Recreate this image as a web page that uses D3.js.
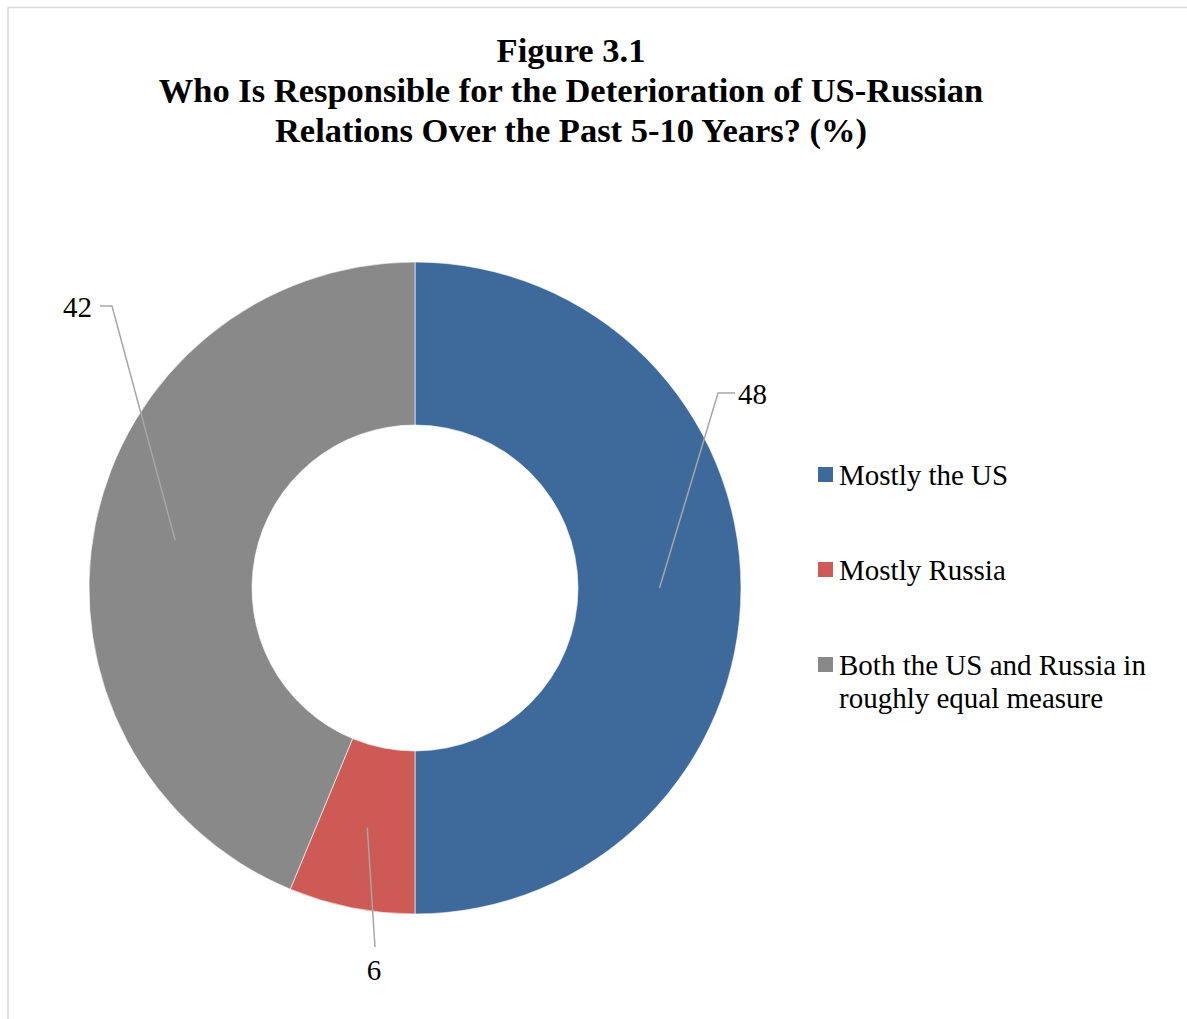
<!DOCTYPE html>
<html>
<head>
<meta charset="utf-8">
<script src="https://cdn.jsdelivr.net/npm/d3@7"></script>
<style>
  html, body { margin: 0; padding: 0; background: #fff; }
  svg { display: block; }
</style>
</head>
<body>
<svg id="chart" width="1187" height="1019"></svg>
<script>
// ---- Data ----
const titleLines = ["Figure 3.1", "Who Is Responsible for the Deterioration of US-Russian", "Relations Over the Past 5-10 Years? (%)"];
const categories = ["Mostly the US", "Mostly Russia", "Both the US and Russia in roughly equal measure"];
const legendLines = [["Mostly the US"], ["Mostly Russia"], ["Both the US and Russia in", "roughly equal measure"]];
const values = [48, 6, 42];
const colors = ["#3E6A9B", "#CD5A55", "#898989"];

// ---- Layout ----
const W = 1187, H = 1019;
const cx = 415, cy = 588, rOuter = 326, rInner = 163;
const svg = d3.select("#chart");

// frame
svg.append("rect").attr("x", 8).attr("y", 7.5).attr("width", 1300).attr("height", 1200)
  .attr("fill", "none").attr("stroke", "#d9d9d9").attr("stroke-width", 1.5);

// title
const title = svg.append("text").attr("text-anchor", "middle")
  .attr("font-family", "'Liberation Serif', 'Times New Roman', serif")
  .attr("font-weight", "bold").attr("font-size", 34.5).attr("fill", "#000");
titleLines.forEach((t, i) => {
  title.append("tspan").attr("x", 571).attr("y", 62 + i * 40).text(t);
});

// pie
const pie = d3.pie().sort(null).value(d => d);
const arcs = pie(values);
const arc = d3.arc().innerRadius(rInner).outerRadius(rOuter);
const mid = d3.arc().innerRadius((rInner + rOuter) / 2).outerRadius((rInner + rOuter) / 2);

const g = svg.append("g").attr("transform", `translate(${cx},${cy})`);
g.selectAll("path.slice").data(arcs).join("path")
  .attr("class", "slice")
  .attr("d", arc)
  .attr("fill", (d, i) => colors[i])
  .attr("stroke", "#ffffff").attr("stroke-width", 0.6);

// data labels with leader lines
const labelPos = [
  { lx: 735, ly: 393, anchor: "start", elbow: -17, tx: 738, ty: 404 },
  { lx: 375, ly: 947, anchor: "middle", elbow: 0, tx: 374, ty: 980 },
  { lx: 100, ly: 306, anchor: "end", elbow: 12, tx: 92, ty: 317 }
];
arcs.forEach((a, i) => {
  const c = mid.centroid(a);
  const p = labelPos[i];
  const px = cx + c[0], py = cy + c[1];
  const pts = p.elbow !== 0
    ? [[px, py], [p.lx + p.elbow, p.ly], [p.lx, p.ly]]
    : [[px, py], [p.lx, p.ly]];
  svg.append("path")
    .attr("d", d3.line()(pts))
    .attr("fill", "none").attr("stroke", "#a6a6a6").attr("stroke-width", 1.5);
  svg.append("text")
    .attr("x", p.tx).attr("y", p.ty)
    .attr("text-anchor", p.anchor)
    .attr("font-family", "'Liberation Serif', 'Times New Roman', serif")
    .attr("font-size", 29).attr("fill", "#000")
    .text(values[i]);
});

// legend
const legendY = [475, 570, 665];
const lg = svg.append("g");
categories.forEach((c, i) => {
  lg.append("rect").attr("x", 818).attr("y", legendY[i] - 8).attr("width", 15).attr("height", 15)
    .attr("fill", colors[i]);
  const t = lg.append("text")
    .attr("font-family", "'Liberation Serif', 'Times New Roman', serif")
    .attr("font-size", 29).attr("fill", "#000");
  legendLines[i].forEach((ln, j) => {
    t.append("tspan").attr("x", 839).attr("y", legendY[i] + 10 + j * 33).text(ln);
  });
});
</script>
</body>
</html>
